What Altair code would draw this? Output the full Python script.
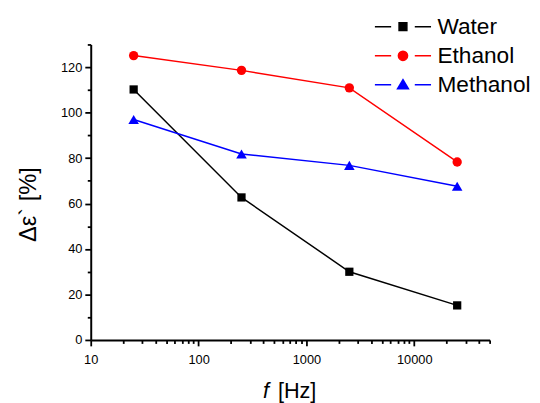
import altair as alt
import pandas as pd

# ---- data ----
freq = [25, 250, 2500, 25000]
series_names = ["Water", "Ethanol", "Methanol"]
water = [110.2, 62.7, 30.0, 15.2]
ethanol = [125.1, 118.6, 110.9, 78.3]
methanol = [97.0, 81.8, 76.8, 67.6]
colors = ["#000000", "#ff0000", "#0000ff"]
marker_shapes = ["square", "circle", "triangle-up"]
marker_sizes = [70, 90, 115]

x_major = [10, 100, 1000, 10000]
x_minor = [20, 30, 40, 50, 60, 70, 80, 90,
           200, 300, 400, 500, 600, 700, 800, 900,
           2000, 3000, 4000, 5000, 6000, 7000, 8000, 9000,
           20000, 30000, 40000, 50000]
y_major = [0, 20, 40, 60, 80, 100, 120]
y_minor = [10, 30, 50, 70, 90, 110, 130]

x_title_var = ["f"]
x_title_unit = ["[Hz]"]

rows = []
for name, vals in zip(series_names, [water, ethanol, methanol]):
    for f, v in zip(freq, vals):
        rows.append({"f": f, "value": v, "series": name})
df = pd.DataFrame(rows)

FONT = "Liberation Sans"

xscale = alt.Scale(type="log", domain=[10, 50000], nice=False)
yscale = alt.Scale(domain=[0, 130], nice=False, zero=False)

major_x = alt.Axis(orient="bottom", values=x_major, format="d", tickSize=6, tickWidth=1.8,
                   domainWidth=2, domainColor="black", tickColor="black", labelFontSize=13,
                   labelFont=FONT, labelColor="black", labelPadding=8, grid=False,
                   title=None, labelFlush=False)
minor_x = alt.Axis(orient="bottom", values=x_minor, labels=False, domain=False, tickSize=3.5,
                   tickWidth=1.8, tickColor="black", grid=False, title=None)
major_y = alt.Axis(orient="left", values=y_major, tickSize=6, tickWidth=1.8, domainWidth=2,
                   domainColor="black", tickColor="black", labelFontSize=13, labelFont=FONT,
                   labelColor="black", labelPadding=3, grid=False,
                   title="Δε` [%]", titleFont=FONT, titleFontSize=24, titleFontWeight="normal",
                   titleColor="black", titleX=-63.5, titleY=162, titleAngle=-90,
                   titleBaseline="middle", titleAlign="center")
minor_y = alt.Axis(orient="left", values=y_minor, labels=False, domain=False, tickSize=3.5,
                   tickWidth=1.8, tickColor="black", grid=False, title=None)

base = alt.Chart(df)

layers = []
for i, (name, col, shp, sz) in enumerate(zip(series_names, colors, marker_shapes, marker_sizes)):
    if i == 0:
        ax_x, ax_y = major_x, major_y
    elif i == 1:
        ax_x, ax_y = minor_x, minor_y
    else:
        ax_x, ax_y = None, None
    sub = base.transform_filter(alt.datum.series == name)
    line = sub.mark_line(strokeWidth=1.5, color=col).encode(
        x=alt.X("f:Q", scale=xscale, axis=ax_x),
        y=alt.Y("value:Q", scale=yscale, axis=ax_y),
    )
    pts = sub.mark_point(filled=True, opacity=1, color=col, shape=shp, size=sz).encode(
        x=alt.X("f:Q", scale=xscale, axis=None),
        y=alt.Y("value:Q", scale=yscale, axis=None),
    )
    layers += [line, pts]

# x-axis title: italic "f" followed by "[Hz]"
title_f = alt.Chart(pd.DataFrame({"t": x_title_var})).mark_text(
    font=FONT, fontSize=22, fontStyle="italic", color="black", align="left",
    baseline="alphabetic"
).encode(text="t:N", x=alt.value(175), y=alt.value(359))
title_hz = alt.Chart(pd.DataFrame({"t": x_title_unit})).mark_text(
    font=FONT, fontSize=22, color="black", align="left", baseline="alphabetic"
).encode(text="t:N", x=alt.value(190), y=alt.value(359))
layers += [title_f, title_hz]

# legend glyphs "—■—", "—●—", "—▲—" (unit = 12 px)
legend_paths = [
    "M-2.375,0L-1,0M1,0L2.375,0M-0.33,-0.33L0.33,-0.33L0.33,0.33L-0.33,0.33Z",
    "M-2.375,0L-1,0M1,0L2.375,0M-0.39,0A0.39,0.39,0,1,1,0.39,0A0.39,0.39,0,1,1,-0.39,0Z",
    "M-2.375,0L-1,0M1,0L2.375,0M0,-0.44L0.46,0.34L-0.46,0.34Z",
]

leg = alt.Legend(orient="none", legendX=304, legendY=-31, title=None, labelFont=FONT,
                 labelFontSize=23, labelColor="black", symbolSize=576, symbolStrokeWidth=1.5,
                 labelOffset=22, rowPadding=4.5, labelLimit=300)

legend_layer = base.transform_filter("false").mark_point(filled=True, opacity=1,
                                                         strokeWidth=1.5).encode(
    fill=alt.Fill("series:N", scale=alt.Scale(domain=series_names, range=colors), legend=leg),
    stroke=alt.Stroke("series:N", scale=alt.Scale(domain=series_names, range=colors), legend=leg),
    shape=alt.Shape("series:N", scale=alt.Scale(domain=series_names, range=legend_paths),
                    legend=leg),
)
layers.append(legend_layer)

chart = alt.layer(*layers).resolve_axis(
    x="independent", y="independent"
).properties(
    width=405, height=300,
    autosize=alt.AutoSizeParams(type="none"),
    padding={"left": 84, "top": 34, "right": 43, "bottom": 61},
    background="white",
).configure_view(stroke=None)

chart.save("out.html", embed_options={"renderer": "svg", "actions": False})
